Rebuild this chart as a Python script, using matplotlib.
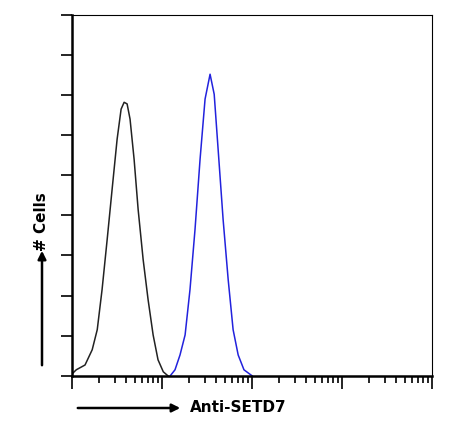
import matplotlib
matplotlib.use("Agg")
import matplotlib.pyplot as plt
from matplotlib.ticker import LogLocator, NullFormatter, MultipleLocator

black_x = [1.0, 1.0, 1.11, 1.39, 1.67, 1.9, 2.15, 2.45, 2.78, 3.16, 3.5, 3.78, 4.08, 4.4, 4.88, 5.41, 6.15, 6.98, 7.94, 9.0, 10.3, 11.6]
black_y = [85, 5, 15, 27, 65, 115, 215, 340, 465, 590, 665, 682, 678, 640, 540, 415, 290, 190, 102, 40, 10, 0]
blue_x = [12.3, 13.9, 15.8, 18.0, 20.4, 23.2, 26.4, 30.0, 34.1, 37.9, 41.9, 47.6, 54.2, 61.5, 70.0, 81.2, 100.0]
blue_y = [0, 15, 52, 102, 215, 365, 540, 690, 752, 702, 565, 390, 240, 115, 52, 15, 0]

fig = plt.figure(figsize=(4.51, 4.37), dpi=100)
ax = fig.add_axes([0.16, 0.14, 0.798, 0.826])
ax.plot(black_x, black_y, color="#222222", lw=1.1)
ax.plot(blue_x, blue_y, color="#2222dd", lw=1.1)
ax.set_xscale("log")
ax.set_xlim(1, 10**4)
ax.set_ylim(0, 900)
ax.yaxis.set_major_locator(MultipleLocator(100))
ax.xaxis.set_major_locator(LogLocator(base=10, numticks=10))
ax.xaxis.set_minor_locator(LogLocator(base=10, subs=range(2, 10), numticks=20))
ax.xaxis.set_major_formatter(NullFormatter())
ax.xaxis.set_minor_formatter(NullFormatter())
ax.yaxis.set_major_formatter(NullFormatter())
ax.tick_params(axis="x", which="major", direction="out", length=9, width=1.2)
ax.tick_params(axis="x", which="minor", direction="out", length=5, width=1.2)
ax.tick_params(axis="y", direction="out", length=8, width=1.2)
for s in ["left", "bottom"]:
    ax.spines[s].set_linewidth(1.8)
for s in ["top", "right"]:
    ax.spines[s].set_linewidth(0.8)

W, H = 451, 437
def fc(x, y):
    return (x / W, 1 - y / H)

ax.annotate("", xy=fc(183, 408), xytext=fc(75, 408), xycoords="figure fraction",
            arrowprops=dict(arrowstyle="-|>", color="black", lw=1.8, mutation_scale=12))
fig.text(*fc(190, 408), "Anti-SETD7", fontsize=11, fontweight="bold", ha="left", va="center")
ax.annotate("", xy=fc(42, 248), xytext=fc(42, 368), xycoords="figure fraction",
            arrowprops=dict(arrowstyle="-|>", color="black", lw=1.8, mutation_scale=12))
fig.text(*fc(42, 222), "# Cells", fontsize=11, fontweight="bold", rotation=90, ha="center", va="center")
fig.savefig("out.png", dpi=100)
